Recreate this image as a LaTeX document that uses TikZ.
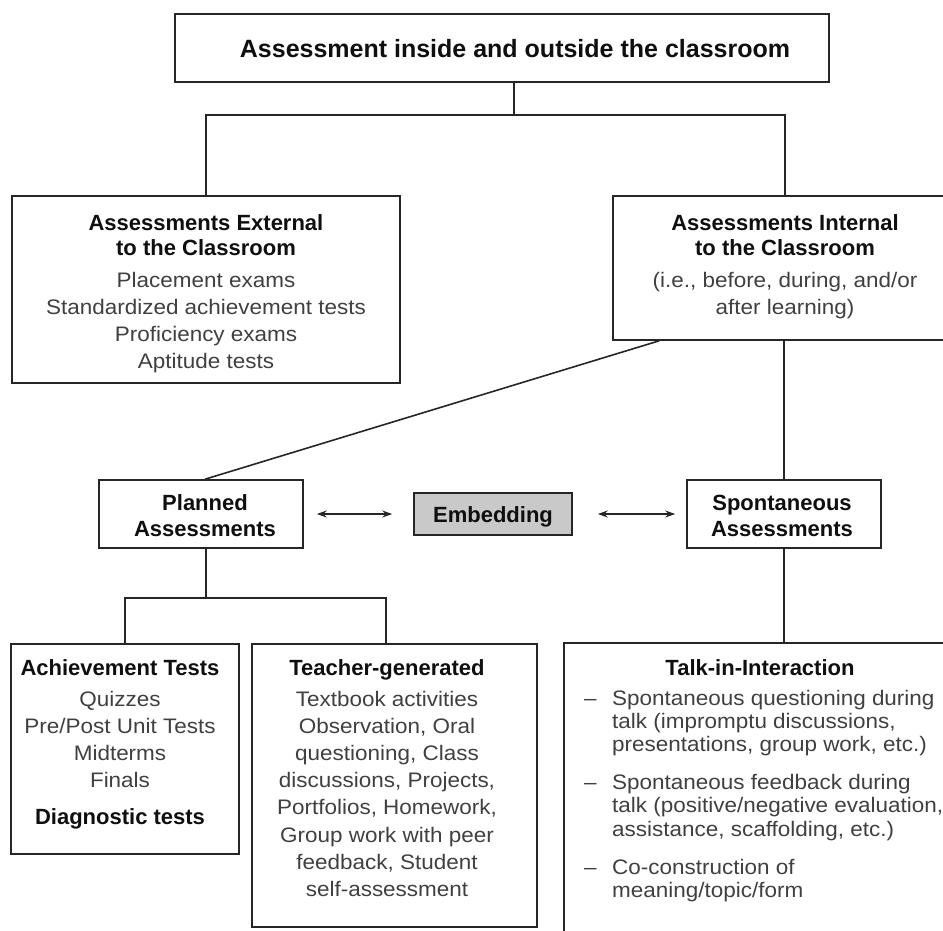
\documentclass[tikz,border=0pt]{standalone}
\usepackage{fontspec}
\setmainfont{Liberation Sans}
\newfontfamily\bodyfam[FakeStretch=1.07]{Liberation Sans}
\usetikzlibrary{arrows.meta,calc}

\definecolor{linecol}{gray}{0.15}
\definecolor{bodycol}{gray}{0.25}
\definecolor{titlecol}{gray}{0.06}
\definecolor{embedfill}{gray}{0.79}

\newcommand\stack[1]{\begin{tabular}[t]{@{}c@{}}#1\end{tabular}}
\newcommand\lstack[1]{\begin{tabular}[t]{@{}l@{}}#1\end{tabular}}
\newcommand\dashitem{\makebox[28pt][l]{–}}
\newcommand\hang{\hspace*{28pt}}

\begin{document}
\begin{tikzpicture}[x=1pt,y=-1pt,
  box/.style={draw=linecol, line width=1.6pt, fill=white, inner sep=0pt},
  link/.style={draw=linecol, line width=1.6pt},
  dbl/.style={draw=linecol, line width=1.4pt, {Stealth[length=10pt,width=7pt]}-{Stealth[length=10pt,width=7pt]}},
  ttl/.style={inner sep=0pt, anchor=base, text=titlecol, font=\bfseries\fontsize{22}{25}\selectfont},
  body/.style={inner sep=0pt, anchor=base, text=bodycol, font=\bodyfam\fontsize{21}{27.2}\selectfont}
]
\useasboundingbox (0,0) rectangle (943,930);
\clip (0,0) rectangle (943,930);

% boxes
\node[box, minimum width=654pt, minimum height=68pt] (top) at (502,48) {};
\node[box, minimum width=388pt, minimum height=187pt] (ext) at (206,289.5) {};
\node[box, minimum width=344pt, minimum height=144pt] (int) at (785,268) {};
\node[box, minimum width=204pt, minimum height=68pt] (planned) at (201,514) {};
\node[box, fill=embedfill, minimum width=158pt, minimum height=42pt] (embed) at (493,514) {};
\node[box, minimum width=194pt, minimum height=68pt] (spont) at (784,514) {};
\node[box, minimum width=228pt, minimum height=210pt] (ach) at (125,749) {};
\node[box, minimum width=285pt, minimum height=283pt] (teach) at (394.5,785.5) {};
\node[box, minimum width=440pt, minimum height=320pt] (talk) at (784,803) {};

% junctions
\coordinate (j1) at (514,115);
\coordinate (j3) at (206,598);
\coordinate (j4) at (386,598);

% connectors
\draw[link] (top.south -| j1) -- (j1);
\draw[link] (ext.north) |- (j1) -| (int.north);
\draw[link] ($(int.south west)+(47,0)$) -- ($(planned.north)+(4,0)$);
\draw[link] (int.south -| spont.north) -- (spont.north);
\draw[link] (spont.south) -- (talk.north -| spont.south);
\draw[link] (planned.south -| j3) -- (j3);
\draw[link] (ach.north) |- (j4) -- (teach.north -| j4);
\draw[dbl, shorten <=13pt, shorten >=21pt] (planned.east) -- (embed.west);
\draw[dbl, shorten <=25pt, shorten >=11pt] (embed.east) -- (spont.west);

% texts
\node[ttl, font=\bfseries\fontsize{25}{28}\selectfont] (toptxt) at (515,57)
  {Assessment inside and outside the classroom};

\node[ttl] (extttl) at (206,230) {\stack{Assessments External\\to the Classroom}};
\node[body] (exttxt) at (206,287) {\stack{Placement exams\\Standardized achievement tests\\Proficiency exams\\Aptitude tests}};

\node[ttl] (intttl) at (785,230) {\stack{Assessments Internal\\to the Classroom}};
\node[body] (inttxt) at (785,287) {\stack{(i.e., before, during, and/or\\after learning)}};

\node[ttl, font=\bfseries\fontsize{22}{26}\selectfont] (planttl) at (205,510) {\stack{Planned\\Assessments}};
\node[ttl] (embttl) at (493,522) {Embedding};
\node[ttl, font=\bfseries\fontsize{22}{26}\selectfont] (spottl) at (782,510) {\stack{Spontaneous\\Assessments}};

\node[ttl] (achttl) at (120,675) {Achievement Tests};
\node[body] (achtxt) at (120,706) {\stack{Quizzes\\Pre/Post Unit Tests\\Midterms\\Finals}};
\node[ttl] (diagttl) at (120,824) {Diagnostic tests};

\node[ttl] (teachttl) at (387,675) {Teacher-generated};
\node[body] (teachtxt) at (387,706) {\stack{Textbook activities\\Observation, Oral\\questioning, Class\\discussions, Projects,\\Portfolios, Homework,\\Group work with peer\\feedback, Student\\self-assessment}};

\node[ttl] (talkttl) at (760,675) {Talk-in-Interaction};
\node[body, anchor=base west, font=\bodyfam\fontsize{21}{23.3}\selectfont] (talktxt) at (584,705)
  {\lstack{\dashitem Spontaneous questioning during\\
           \hang talk (impromptu discussions,\\
           \hang presentations, group work, etc.)\\[14.7pt]
           \dashitem Spontaneous feedback during\\
           \hang talk (positive/negative evaluation,\\
           \hang assistance, scaffolding, etc.)\\[14.7pt]
           \dashitem Co-construction of\\
           \hang meaning/topic/form}};
\end{tikzpicture}
\end{document}
